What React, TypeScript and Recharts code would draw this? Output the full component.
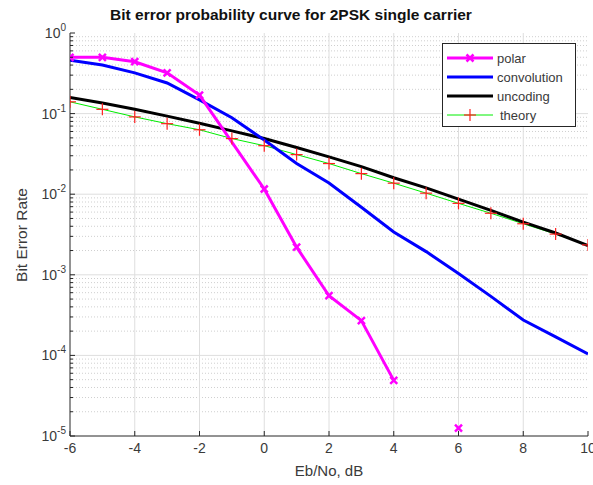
import {
  CartesianGrid,
  Legend,
  Line,
  LineChart,
  ReferenceLine,
  XAxis,
  YAxis,
} from "recharts";

// Eb/No grid (dB) shared by the full-range curves
const ebno = [-6, -5, -4, -3, -2, -1, 0, 1, 2, 3, 4, 5, 6, 7, 8, 9, 10];
const convolution = [
  0.46, 0.4, 0.32, 0.24, 0.148, 0.089, 0.047, 0.024, 0.0138, 0.0069, 0.0034,
  0.00194, 0.00104, 0.00054, 0.000275, 0.00017, 0.000104,
];
const uncoding = [
  0.159, 0.135, 0.113, 0.093, 0.076, 0.061, 0.049, 0.038, 0.029, 0.022, 0.016,
  0.012, 0.0087, 0.0063, 0.0045, 0.0033, 0.0023,
];
const theory = [
  0.14, 0.113, 0.091, 0.075, 0.063, 0.049, 0.04, 0.031, 0.024, 0.018, 0.0137,
  0.0103, 0.0077, 0.0058, 0.0043, 0.0032, 0.00235,
];

// polar was simulated on its own points; 5 dB gave no errors
const polarEbno = [-6, -5, -4, -3, -2, 0, 1, 2, 3, 4, 5, 6];
const polarBer = [
  0.5, 0.5, 0.44, 0.32, 0.17, 0.0116, 0.0022, 0.00055, 0.00027, 0.000049, null,
  0.0000125,
];

const xTicks = [-6, -4, -2, 0, 2, 4, 6, 8, 10];
const decades = [1e-5, 1e-4, 1e-3, 1e-2, 1e-1, 1];
const exponents = [-5, -4, -3, -2, -1, 0];
const minorSteps = [2, 3, 4, 5, 6, 7, 8, 9];

const minorTicks = decades.slice(0, -1).flatMap((d) => minorSteps.map((m) => m * d));
const yTicks = [...decades, ...minorTicks].sort((a, b) => a - b);

const tableData = ebno.map((x, i) => ({
  ebno: x,
  convolution: convolution[i],
  uncoding: uncoding[i],
  theory: theory[i],
}));
const polarData = polarEbno.map((x, i) => ({ ebno: x, polar: polarBer[i] }));

const axisColor = "#262626";
const textColor = "#3a3a3a";
const font = "'Liberation Sans', Arial, sans-serif";

const colors = {
  polar: "#ff00ff",
  convolution: "#0000ff",
  uncoding: "#000000",
  theory: "#00ee00",
  plus: "#ff2020",
};

const decadeIndex = (v: number) => decades.findIndex((d) => Math.abs(v / d - 1) < 1e-6);

const LeftTick = (props: any) => {
  const { x, y, payload } = props;
  const i = decadeIndex(payload.value);
  const len = i >= 0 ? 5 : 3;
  return (
    <g>
      <line x1={x} x2={x + len} y1={y} y2={y} stroke={axisColor} />
      {i >= 0 && (
        <text x={x - 4} y={y + 5} textAnchor="end" fill={textColor} fontSize={14} fontFamily={font}>
          10
          <tspan dy={-7} fontSize={10}>
            {exponents[i]}
          </tspan>
        </text>
      )}
    </g>
  );
};

const RightTick = (props: any) => {
  const { x, y, payload } = props;
  const len = decadeIndex(payload.value) >= 0 ? 5 : 3;
  return <line x1={x} x2={x - len} y1={y} y2={y} stroke={axisColor} />;
};

const BottomTick = (props: any) => {
  const { x, y, payload } = props;
  return (
    <g>
      <line x1={x} x2={x} y1={y} y2={y - 5} stroke={axisColor} />
      <text x={x} y={y + 17} textAnchor="middle" fill={textColor} fontSize={14} fontFamily={font}>
        {payload.value}
      </text>
    </g>
  );
};

const TopTick = (props: any) => {
  const { x, y } = props;
  return <line x1={x} x2={x} y1={y} y2={y + 5} stroke={axisColor} />;
};

const XMark = (props: any) => {
  const { cx, cy, value, index } = props;
  if (value == null || cx == null || cy == null) return <g key={index} />;
  const s = 3.5;
  return (
    <g key={index} stroke={colors.polar} strokeWidth={2.5}>
      <line x1={cx - s} y1={cy - s} x2={cx + s} y2={cy + s} />
      <line x1={cx - s} y1={cy + s} x2={cx + s} y2={cy - s} />
    </g>
  );
};

const PlusMark = (props: any) => {
  const { cx, cy, index } = props;
  if (cx == null || cy == null) return <g key={index} />;
  const s = 6;
  return (
    <g key={index} stroke={colors.plus} strokeWidth={1.2}>
      <line x1={cx - s} y1={cy} x2={cx + s} y2={cy} />
      <line x1={cx} y1={cy - s} x2={cx} y2={cy + s} />
    </g>
  );
};

const legendItems = [
  { name: "polar", color: colors.polar, width: 3, mark: "x" },
  { name: "convolution", color: colors.convolution, width: 3, mark: "" },
  { name: "uncoding", color: colors.uncoding, width: 3, mark: "" },
  { name: "theory", color: colors.theory, width: 1, mark: "+" },
];

const LegendBox = () => (
  <svg width={134} height={84} style={{ display: "block" }}>
    <rect x={0.5} y={0.5} width={133} height={83} fill="#fff" stroke={axisColor} />
    {legendItems.map((it, i) => {
      const y = 15 + i * 19;
      return (
        <g key={it.name}>
          <line x1={5} x2={51} y1={y} y2={y} stroke={it.color} strokeWidth={it.width} />
          {it.mark === "x" && XMark({ cx: 28, cy: y, value: 1, index: "lx" })}
          {it.mark === "+" && PlusMark({ cx: 28, cy: y, index: "lp" })}
          <text x={it.mark === "+" ? 58 : 55} y={y + 5} fontSize={13} fill={textColor} fontFamily={font}>
            {it.name}
          </text>
        </g>
      );
    })}
  </svg>
);

export default function App() {
  return (
    <div style={{ position: "absolute", left: 0, top: 0, width: 593, height: 485, background: "#fff" }}>
      <div
        style={{
          position: "absolute",
          left: 0,
          width: 582,
          top: 6,
          textAlign: "center",
          fontFamily: font,
          fontWeight: "bold",
          fontSize: 15.5,
          color: "#111",
          lineHeight: "18px",
        }}
      >
        Bit error probability curve for 2PSK single carrier
      </div>
      <LineChart
        width={593}
        height={485}
        data={tableData}
        margin={{ top: 33, right: 5, bottom: 0, left: 0 }}
      >
        <CartesianGrid horizontal={false} vertical={false} />
        <XAxis
          dataKey="ebno"
          type="number"
          domain={[-6, 10]}
          ticks={xTicks}
          interval={0}
          height={49}
          tickSize={0}
          tickMargin={0}
          tick={BottomTick}
          axisLine={{ stroke: axisColor }}
          allowDataOverflow
          label={() => (
            <text x={329} y={476} textAnchor="middle" fill={textColor} fontSize={15} fontFamily={font}>
              Eb/No, dB
            </text>
          )}
        />
        <XAxis
          xAxisId="top"
          orientation="top"
          type="number"
          domain={[-6, 10]}
          ticks={xTicks}
          interval={0}
          height={0}
          tickSize={0}
          tickMargin={0}
          tick={TopTick}
          axisLine={{ stroke: axisColor }}
        />
        <YAxis
          type="number"
          scale="log"
          domain={[1e-5, 1]}
          ticks={yTicks}
          interval={0}
          width={70}
          tickSize={0}
          tickMargin={0}
          tick={LeftTick}
          axisLine={{ stroke: axisColor }}
          allowDataOverflow
          label={() => (
            <text
              x={21}
              y={235}
              transform="rotate(-90 21 235)"
              textAnchor="middle"
              dominantBaseline="central"
              fill={textColor}
              fontSize={15.5}
              fontFamily={font}
            >
              Bit Error Rate
            </text>
          )}
        />
        <YAxis
          yAxisId="right"
          orientation="right"
          type="number"
          scale="log"
          domain={[1e-5, 1]}
          ticks={yTicks}
          interval={0}
          width={0}
          tickSize={0}
          tickMargin={0}
          tick={RightTick}
          axisLine={{ stroke: axisColor }}
          allowDataOverflow
        />
        {minorTicks.map((v) => (
          <ReferenceLine key={"m" + v} y={v} stroke="#cfcfcf" strokeDasharray="1 2" />
        ))}
        {decades.slice(1, -1).map((v) => (
          <ReferenceLine key={"d" + v} y={v} stroke="#dedede" />
        ))}
        {xTicks.slice(1, -1).map((v) => (
          <ReferenceLine key={"x" + v} x={v} stroke="#dedede" />
        ))}
        <Line
          type="linear"
          dataKey="theory"
          stroke={colors.theory}
          strokeWidth={1}
          dot={PlusMark}
          activeDot={false}
          isAnimationActive={false}
        />
        <Line
          type="linear"
          dataKey="uncoding"
          stroke={colors.uncoding}
          strokeWidth={3}
          dot={false}
          activeDot={false}
          isAnimationActive={false}
        />
        <Line
          type="linear"
          dataKey="convolution"
          stroke={colors.convolution}
          strokeWidth={3}
          dot={false}
          activeDot={false}
          isAnimationActive={false}
        />
        <Line
          type="linear"
          data={polarData}
          dataKey="polar"
          stroke={colors.polar}
          strokeWidth={3}
          dot={XMark}
          activeDot={false}
          connectNulls={false}
          isAnimationActive={false}
        />
        <Legend
          layout="vertical"
          align="center"
          verticalAlign="middle"
          wrapperStyle={{ position: "absolute", left: 442, top: 43, width: 134, height: 84 }}
          content={() => <LegendBox />}
        />
      </LineChart>
    </div>
  );
}
